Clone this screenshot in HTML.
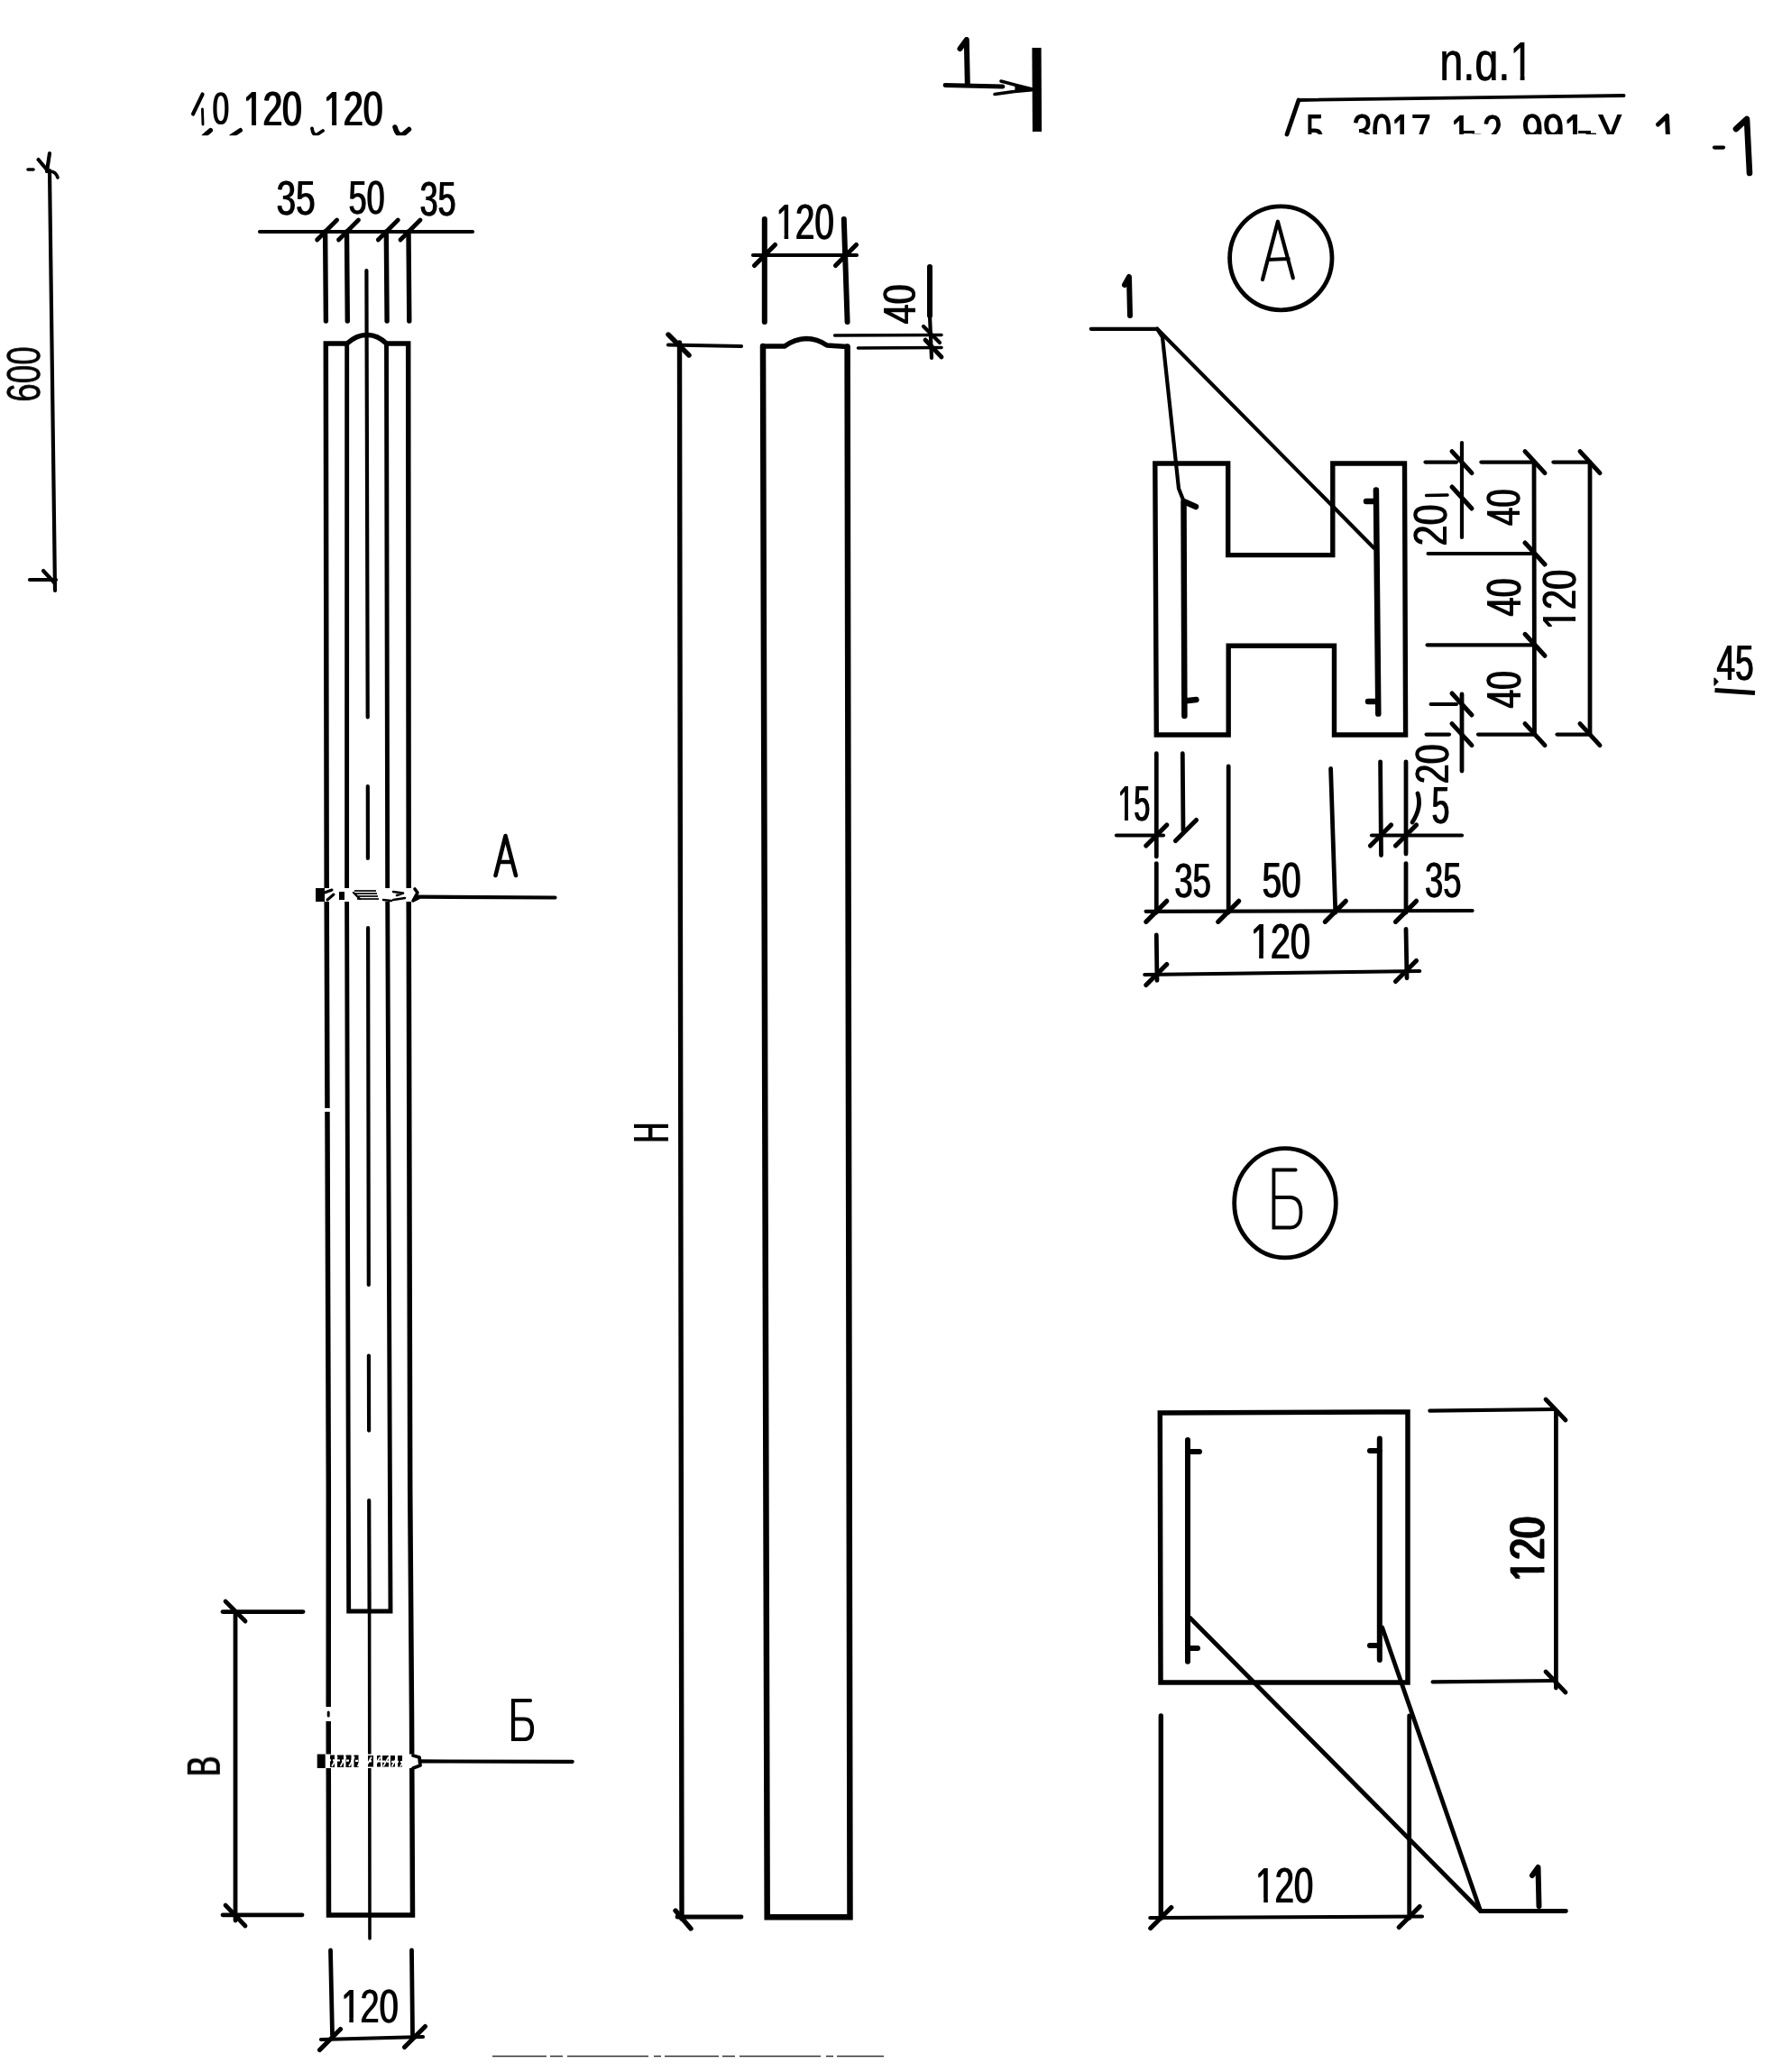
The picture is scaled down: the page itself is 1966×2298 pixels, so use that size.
<!DOCTYPE html>
<html><head><meta charset="utf-8"><title>Drawing</title>
<style>html,body{margin:0;padding:0;background:#fff;}body{width:1966px;height:2298px;overflow:hidden;font-family:"Liberation Sans",sans-serif;}svg{display:block;}</style></head>
<body>
<svg width="1966" height="2298" viewBox="0 0 1966 2298" font-family="'Liberation Sans', sans-serif" fill="#000">
<g style="opacity:.999">
<path d="M224.6 104.5 L214 126.5" fill="none" stroke="#000" stroke-width="4.1" stroke-linecap="round" stroke-linejoin="round"/>
<path d="M224.4 121 L225 138" fill="none" stroke="#000" stroke-width="2.9" stroke-linecap="round" stroke-linejoin="round"/>
<g transform="matrix(0.3321 0.0000 0.0000 0.5028 235.6000 138.1972)" font-size="100"  ><text x="-1.81">0</text><text x="1.81">0</text></g>
<g transform="matrix(0.3870 0.0000 0.0000 0.5282 270.0774 138.9718)" font-size="100"  ><text x="-2.07">120</text><text x="2.07">120</text><rect x="2.43" y="-10" width="20.65" height="12.5" fill="#fff" stroke="none"/><rect x="36.05" y="-10" width="19.82" height="12.5" fill="#fff" stroke="none"/></g>
<g transform="matrix(0.3927 0.0000 0.0000 0.5352 359.0224 139.4648)" font-size="100"  ><text x="-2.04">120</text><text x="2.04">120</text><rect x="2.46" y="-10" width="20.65" height="12.5" fill="#fff" stroke="none"/><rect x="36.02" y="-10" width="19.82" height="12.5" fill="#fff" stroke="none"/></g>
<clipPath id="c0"><rect x="200" y="135" width="300" height="15.3"/></clipPath>
<g clip-path="url(#c0)">
<line x1="226" y1="151" x2="233.5" y2="144.5" stroke="#000" stroke-width="5" stroke-linecap="round"/>
<line x1="256.5" y1="151" x2="266.5" y2="144.5" stroke="#000" stroke-width="5" stroke-linecap="round"/>
<path d="M346 142.5 Q347 151 352 149 L358 145" fill="none" stroke="#000" stroke-width="3.8" stroke-linecap="round" stroke-linejoin="round"/>
<path d="M438 141 Q441 152 447 149 L453.5 143.5" fill="none" stroke="#000" stroke-width="5.5" stroke-linecap="round" stroke-linejoin="round"/>
</g>
<line x1="55" y1="189" x2="61" y2="655" stroke="#000" stroke-width="4.2" stroke-linecap="round"/>
<line x1="31" y1="188" x2="37" y2="188" stroke="#000" stroke-width="3.6" stroke-linecap="round"/>
<line x1="42.5" y1="177" x2="53.5" y2="190" stroke="#000" stroke-width="4.2" stroke-linecap="round"/>
<line x1="55" y1="170" x2="52" y2="190" stroke="#000" stroke-width="4.2" stroke-linecap="round"/>
<path d="M55 190 Q62 190 64 197" fill="none" stroke="#000" stroke-width="3.6" stroke-linecap="round" stroke-linejoin="round"/>
<line x1="33" y1="643" x2="62" y2="643" stroke="#000" stroke-width="4.2" stroke-linecap="round"/>
<line x1="48" y1="633" x2="60" y2="646" stroke="#000" stroke-width="4.2" stroke-linecap="round"/>
<g transform="matrix(0.0000 -0.3689 0.5211 0.0000 44.4789 445.8000)" font-size="100"  ><text x="-0.54">600</text><text x="0.54">600</text></g>
<g transform="matrix(0.3856 0.0000 0.0000 0.5394 306.6000 238.4606)" font-size="100"  ><text x="-1.56">35</text><text x="1.56">35</text></g>
<g transform="matrix(0.3586 0.0000 0.0000 0.5099 386.6000 237.4901)" font-size="100"  ><text x="-1.67">50</text><text x="1.67">50</text></g>
<g transform="matrix(0.3586 0.0000 0.0000 0.5380 465.6000 239.4620)" font-size="100"  ><text x="-1.67">35</text><text x="1.67">35</text></g>
<line x1="288" y1="257" x2="524" y2="257" stroke="#000" stroke-width="4.2" stroke-linecap="round"/>
<line x1="360.6" y1="257" x2="361.4" y2="356" stroke="#000" stroke-width="5.4" stroke-linecap="round"/>
<line x1="351.6" y1="266" x2="373.6" y2="244" stroke="#000" stroke-width="4.8" stroke-linecap="round"/>
<line x1="384.5" y1="257" x2="385.3" y2="356" stroke="#000" stroke-width="5.4" stroke-linecap="round"/>
<line x1="375.5" y1="266" x2="397.5" y2="244" stroke="#000" stroke-width="4.8" stroke-linecap="round"/>
<line x1="428.3" y1="257" x2="429.1" y2="356" stroke="#000" stroke-width="5.4" stroke-linecap="round"/>
<line x1="419.3" y1="266" x2="441.3" y2="244" stroke="#000" stroke-width="4.8" stroke-linecap="round"/>
<line x1="453" y1="257" x2="453.8" y2="356" stroke="#000" stroke-width="5.4" stroke-linecap="round"/>
<line x1="444" y1="266" x2="466" y2="244" stroke="#000" stroke-width="4.8" stroke-linecap="round"/>
<path d="M364.5 2124 L364.2 1900 L364.3 1650 L362.2 995 L361.3 381 L384.7 381 Q396 371 407 371.5 Q418 371 428.5 381 L452.7 381 L453.2 995 L454.7 1650 L456.5 1900 L457.5 2124 Z" fill="none" stroke="#000" stroke-width="5.5" stroke-linecap="round" stroke-linejoin="miter"/>
<path d="M384.7 381 L384.6 995 L386.3 1650 L386.7 1787 L433 1787 L432.4 1650 L429.7 995 L428.5 381" fill="none" stroke="#000" stroke-width="4.9" stroke-linecap="round" stroke-linejoin="miter"/>
<line x1="406.4" y1="300" x2="407.7" y2="795.5" stroke="#000" stroke-width="4.2" stroke-linecap="round"/>
<line x1="407.8" y1="872" x2="407.9" y2="952" stroke="#000" stroke-width="4.2" stroke-linecap="round"/>
<line x1="408.1" y1="1029" x2="408.8" y2="1425" stroke="#000" stroke-width="4.2" stroke-linecap="round"/>
<line x1="408.9" y1="1503.5" x2="409.1" y2="1586.6" stroke="#000" stroke-width="4.2" stroke-linecap="round"/>
<line x1="409.2" y1="1664" x2="409.6" y2="1787" stroke="#000" stroke-width="4.2" stroke-linecap="round"/>
<line x1="409.6" y1="1787" x2="410" y2="2150" stroke="#000" stroke-width="3.6" stroke-linecap="round"/>
<rect x="358" y="1229" width="10" height="4" fill="#fff"/>
<rect x="359" y="1893" width="10" height="16" fill="#fff"/>
<line x1="364.2" y1="1899" x2="364.2" y2="1903" stroke="#000" stroke-width="3" stroke-linecap="round"/>
<rect x="358" y="985" width="105" height="15" fill="#fff"/>
<rect x="350" y="985" width="10" height="15" fill="#000"/>
<path d="M360 990 L368 987 M363 998 L370 992" fill="none" stroke="#000" stroke-width="3" stroke-linecap="round" stroke-linejoin="round"/>
<rect x="376" y="989" width="6" height="9" fill="#000"/>
<line x1="393" y1="988" x2="417" y2="988" stroke="#000" stroke-width="1.7" stroke-linecap="butt"/>
<line x1="394" y1="991" x2="418" y2="991" stroke="#000" stroke-width="1.7" stroke-linecap="butt"/>
<line x1="395" y1="994" x2="419" y2="994" stroke="#000" stroke-width="1.7" stroke-linecap="butt"/>
<line x1="396" y1="997" x2="420" y2="997" stroke="#000" stroke-width="1.7" stroke-linecap="butt"/>
<path d="M392 990 L399 997" fill="none" stroke="#000" stroke-width="2.4" stroke-linecap="round" stroke-linejoin="round"/>
<path d="M425 998 L434 999 M436 989 L447 990.5 L440 993 M436 998 L449 996" fill="none" stroke="#000" stroke-width="2.6" stroke-linecap="round" stroke-linejoin="round"/>
<path d="M460 986 L463 990 L458 999 L464 996" fill="none" stroke="#000" stroke-width="3.6" stroke-linecap="round" stroke-linejoin="round"/>
<line x1="463" y1="994.7" x2="615.5" y2="995.5" stroke="#000" stroke-width="4.2" stroke-linecap="round"/>
<path d="M549.5 971 L560.5 927 L572 971 M553.5 956 L568 956" fill="none" stroke="#000" stroke-width="4.6" stroke-linecap="round" stroke-linejoin="round"/>
<rect x="359.7" y="1945.5" width="106.1" height="15.5" fill="#fff"/>
<rect x="351.7" y="1945.5" width="9" height="15.5" fill="#000"/>
<line x1="366" y1="1953.2" x2="398" y2="1953.2" stroke="#000" stroke-width="13.5" stroke-dasharray="5 3 7 2.5 6 3"/>
<line x1="408" y1="1953.2" x2="446" y2="1953.2" stroke="#000" stroke-width="12.5" stroke-dasharray="6 4 4 2 7 2 5 3"/>
<line x1="364" y1="1952.2" x2="452" y2="1954.2" stroke="#fff" stroke-width="2.2" stroke-dasharray="3 2"/>
<line x1="368" y1="1959" x2="374" y2="1948.5" stroke="#fff" stroke-width="1.6" stroke-linecap="butt"/>
<line x1="377.5" y1="1959" x2="383.5" y2="1948.5" stroke="#fff" stroke-width="1.6" stroke-linecap="butt"/>
<line x1="387" y1="1959" x2="393" y2="1948.5" stroke="#fff" stroke-width="1.6" stroke-linecap="butt"/>
<line x1="396.5" y1="1959" x2="402.5" y2="1948.5" stroke="#fff" stroke-width="1.6" stroke-linecap="butt"/>
<line x1="406" y1="1959" x2="412" y2="1948.5" stroke="#fff" stroke-width="1.6" stroke-linecap="butt"/>
<line x1="415.5" y1="1959" x2="421.5" y2="1948.5" stroke="#fff" stroke-width="1.6" stroke-linecap="butt"/>
<line x1="425" y1="1959" x2="431" y2="1948.5" stroke="#fff" stroke-width="1.6" stroke-linecap="butt"/>
<line x1="434.5" y1="1959" x2="440.5" y2="1948.5" stroke="#fff" stroke-width="1.6" stroke-linecap="butt"/>
<line x1="444" y1="1959" x2="450" y2="1948.5" stroke="#fff" stroke-width="1.6" stroke-linecap="butt"/>
<path d="M458 1947 L465 1949 L466 1958 L458 1961" fill="none" stroke="#000" stroke-width="3.8" stroke-linecap="round" stroke-linejoin="round"/>
<line x1="465.8" y1="1953.4" x2="634.7" y2="1953.8" stroke="#000" stroke-width="4.2" stroke-linecap="round"/>
<path d="M588 1886 L569 1886 L569 1929 L582 1929 Q590 1928.5 590 1917.5 Q590 1906.5 581 1906.5 L569 1906.5" fill="none" stroke="#000" stroke-width="4.2" stroke-linecap="round" stroke-linejoin="miter"/>
<line x1="261" y1="1787.6" x2="261" y2="2130" stroke="#000" stroke-width="4.8" stroke-linecap="round"/>
<line x1="247" y1="1787.6" x2="336" y2="1787.6" stroke="#000" stroke-width="4.8" stroke-linecap="round"/>
<line x1="247" y1="2123.8" x2="335" y2="2123.8" stroke="#000" stroke-width="4.8" stroke-linecap="round"/>
<line x1="250" y1="1776" x2="272" y2="1798" stroke="#000" stroke-width="4.8" stroke-linecap="round"/>
<line x1="250" y1="2113" x2="272" y2="2136" stroke="#000" stroke-width="4.8" stroke-linecap="round"/>
<g transform="matrix(0.0000 -0.3343 0.5217 0.0000 243.8000 1970.0000)" font-size="100"  ><text x="-1.79">B</text><text x="1.79">B</text></g>
<line x1="366.5" y1="2163" x2="368.5" y2="2257" stroke="#000" stroke-width="4.8" stroke-linecap="round"/>
<line x1="456.5" y1="2163" x2="457.5" y2="2257" stroke="#000" stroke-width="4.8" stroke-linecap="round"/>
<line x1="356" y1="2262" x2="469" y2="2259" stroke="#000" stroke-width="4.2" stroke-linecap="round"/>
<line x1="354.5" y1="2273.5" x2="377.5" y2="2250.5" stroke="#000" stroke-width="5.2" stroke-linecap="round"/>
<line x1="448.5" y1="2270.5" x2="471.5" y2="2247.5" stroke="#000" stroke-width="5.2" stroke-linecap="round"/>
<g transform="matrix(0.3800 0.0000 0.0000 0.5254 378.3447 2243.4746)" font-size="100"  ><text x="-1.58">120</text><text x="1.58">120</text><rect x="2.92" y="-10" width="20.65" height="12.5" fill="#fff" stroke="none"/><rect x="35.56" y="-10" width="19.82" height="12.5" fill="#fff" stroke="none"/></g>
<line x1="546" y1="2280.5" x2="980" y2="2280.5" stroke="#333" stroke-width="1.6" stroke-dasharray="60 4 14 5 90 6 8 4"/>
<g transform="matrix(0.3863 0.0000 0.0000 0.5592 860.4835 265.1408)" font-size="100"  ><text x="-1.55">120</text><text x="1.55">120</text><rect x="2.95" y="-10" width="20.65" height="12.5" fill="#fff" stroke="none"/><rect x="35.53" y="-10" width="19.82" height="12.5" fill="#fff" stroke="none"/></g>
<line x1="847.8" y1="243" x2="847.8" y2="357" stroke="#000" stroke-width="6" stroke-linecap="round"/>
<line x1="935.8" y1="243" x2="939.6" y2="357" stroke="#000" stroke-width="6" stroke-linecap="round"/>
<line x1="835" y1="283" x2="950" y2="283" stroke="#000" stroke-width="4.2" stroke-linecap="round"/>
<line x1="836.5" y1="294.5" x2="859.5" y2="271.5" stroke="#000" stroke-width="5.2" stroke-linecap="round"/>
<line x1="926.5" y1="294.5" x2="949.5" y2="271.5" stroke="#000" stroke-width="5.2" stroke-linecap="round"/>
<path d="M846 384 L850.7 2126.3 L942.5 2126.3 L939.6 384.5" fill="none" stroke="#000" stroke-width="6.5" stroke-linecap="round" stroke-linejoin="miter"/>
<path d="M846 384 L870 384 Q881 376 894 375.5 Q906 375.5 917 383 L939.6 384.5" fill="none" stroke="#000" stroke-width="5.4" stroke-linecap="round" stroke-linejoin="round"/>
<line x1="753.5" y1="380" x2="756" y2="2128" stroke="#000" stroke-width="5.4" stroke-linecap="round"/>
<line x1="741" y1="382.5" x2="822" y2="384" stroke="#000" stroke-width="4.2" stroke-linecap="round"/>
<line x1="751" y1="2126" x2="822" y2="2126" stroke="#000" stroke-width="4.8" stroke-linecap="round"/>
<line x1="741" y1="371" x2="764" y2="394" stroke="#000" stroke-width="5.4" stroke-linecap="round"/>
<line x1="749" y1="2119" x2="766" y2="2139" stroke="#000" stroke-width="5.4" stroke-linecap="round"/>
<g transform="matrix(0.0000 -0.3111 0.5493 0.0000 741.4000 1267.4000)" font-size="100"  ><text x="-1.93">H</text><text x="1.93">H</text></g>
<line x1="1031" y1="296" x2="1031" y2="350" stroke="#000" stroke-width="6" stroke-linecap="round"/>
<line x1="1031" y1="350" x2="1033" y2="397" stroke="#000" stroke-width="4.2" stroke-linecap="round"/>
<line x1="925.6" y1="372" x2="1044" y2="371.5" stroke="#000" stroke-width="3.6" stroke-linecap="round"/>
<line x1="951.5" y1="386" x2="1044" y2="385.5" stroke="#000" stroke-width="3.6" stroke-linecap="round"/>
<line x1="1024" y1="362" x2="1042" y2="380" stroke="#000" stroke-width="4.2" stroke-linecap="round"/>
<line x1="1026" y1="377" x2="1044" y2="396" stroke="#000" stroke-width="4.8" stroke-linecap="round"/>
<g transform="matrix(0.0000 -0.3946 0.5070 0.0000 1015.2930 359.4000)" font-size="100"  ><text x="-1.52">40</text><text x="1.52">40</text></g>
<path d="M1064.5 54 L1071.8 44 L1072.8 93" fill="none" stroke="#000" stroke-width="6" stroke-linecap="round" stroke-linejoin="round"/>
<line x1="1048" y1="94.5" x2="1112" y2="96" stroke="#000" stroke-width="4.8" stroke-linecap="round"/>
<path d="M1110 90 Q1128 95 1147 99.5 Q1125 101 1103 104.5" fill="none" stroke="#000" stroke-width="3.6" stroke-linecap="round" stroke-linejoin="round"/>
<path d="M1126 95.5 L1147 99.5 L1126 102 Z" fill="#000" stroke="#000" stroke-width="1.2" stroke-linecap="round" stroke-linejoin="round"/>
<line x1="1149.5" y1="53" x2="1150" y2="146" stroke="#000" stroke-width="10.2" stroke-linecap="butt"/>
<g transform="matrix(0.4672 0.0000 0.0000 0.6143 1596.3500 89.3857)" font-size="100"  ><text x="-0.75">n.ɑ.1</text><text x="0.75">n.ɑ.1</text><rect x="170.53" y="-10" width="20.65" height="12.5" fill="#fff" stroke="none"/><rect x="201.51" y="-10" width="19.82" height="12.5" fill="#fff" stroke="none"/></g>
<line x1="1440" y1="111" x2="1800.6" y2="106" stroke="#000" stroke-width="3.8" stroke-linecap="round"/>
<line x1="1440" y1="111" x2="1427" y2="149" stroke="#000" stroke-width="4.8" stroke-linecap="round"/>
<clipPath id="ct"><rect x="1400" y="100" width="566" height="49"/></clipPath>
<g clip-path="url(#ct)">
<g transform="matrix(0.2939 0.0000 0.0000 0.5507 1448.6000 165.0000)" font-size="100"  ><text x="-2.04">Б</text><text x="2.04">Б</text></g>
<g transform="matrix(0.3910 0.0000 0.0000 0.5352 1499.6000 164.4648)" font-size="100"  ><text x="-1.53">3017</text><text x="1.53">3017</text><rect x="114.18" y="-10" width="20.65" height="12.5" fill="#fff" stroke="none"/><rect x="146.73" y="-10" width="19.82" height="12.5" fill="#fff" stroke="none"/></g>
<g transform="matrix(0.3937 0.0000 0.0000 0.5429 1608.8125 165.0000)" font-size="100"  ><text x="-1.52">1-2</text><text x="1.52">1-2</text><rect x="2.98" y="-10" width="20.65" height="12.5" fill="#fff" stroke="none"/><rect x="35.50" y="-10" width="19.82" height="12.5" fill="#fff" stroke="none"/></g>
<g transform="matrix(0.4181 0.0000 0.0000 0.5352 1687.6000 164.4648)" font-size="100"  ><text x="-1.44">991-У</text><text x="1.44">991-У</text><rect x="114.28" y="-10" width="20.65" height="12.5" fill="#fff" stroke="none"/><rect x="146.63" y="-10" width="19.82" height="12.5" fill="#fff" stroke="none"/></g>
<path d="M1838.5 138 L1848.5 128.5 L1850 165" fill="none" stroke="#000" stroke-width="5" stroke-linecap="round" stroke-linejoin="round"/>
</g>
<line x1="1621" y1="146.5" x2="1635" y2="146.5" stroke="#000" stroke-width="3.1" stroke-linecap="butt"/>
<line x1="1750" y1="146.5" x2="1764" y2="146.5" stroke="#000" stroke-width="3.1" stroke-linecap="butt"/>
<line x1="1901" y1="163.6" x2="1911" y2="163.6" stroke="#000" stroke-width="4.2" stroke-linecap="round"/>
<path d="M1925 143 L1937 132 L1940 192" fill="none" stroke="#000" stroke-width="6.6" stroke-linecap="round" stroke-linejoin="round"/>
<ellipse cx="1420.3" cy="286.3" rx="56.7" ry="57.5" fill="none" stroke="#000" stroke-width="4.8"/>
<path d="M1400 310 L1416.9 245.7 L1433.8 308.3 M1406 288 L1428.7 287" fill="none" stroke="#000" stroke-width="4.2" stroke-linecap="round" stroke-linejoin="round"/>
<path d="M1247 316 L1252 307 L1253 350" fill="none" stroke="#000" stroke-width="6" stroke-linecap="round" stroke-linejoin="round"/>
<line x1="1209.8" y1="364.8" x2="1283.2" y2="364.8" stroke="#000" stroke-width="4.2" stroke-linecap="round"/>
<path d="M1283.2 364.8 L1289 374 L1307 541.8 L1313.7 558.7" fill="none" stroke="#000" stroke-width="4.2" stroke-linecap="round" stroke-linejoin="round"/>
<line x1="1283.2" y1="364.8" x2="1523.5" y2="607.8" stroke="#000" stroke-width="4.2" stroke-linecap="round"/>
<path d="M1280.8 514 L1361.7 514 L1361.7 615.6 L1477.8 615.6 L1477.8 514 L1557.5 514 L1558.6 815 L1479.5 815 L1479.5 716.3 L1362.2 716.3 L1362.2 815 L1282.3 815 Z" fill="none" stroke="#000" stroke-width="5.4" stroke-linecap="round" stroke-linejoin="miter"/>
<path d="M1326 562 L1312.5 556 L1313.4 794 M1313.4 777.5 L1326.4 776" fill="none" stroke="#000" stroke-width="6.5" stroke-linecap="round" stroke-linejoin="round"/>
<path d="M1515 556 L1526 556 M1525.9 543.5 L1528.3 791.6 M1528 778 L1517 778" fill="none" stroke="#000" stroke-width="6.5" stroke-linecap="round" stroke-linejoin="round"/>
<line x1="1580.5" y1="512.6" x2="1615" y2="512.6" stroke="#000" stroke-width="4.2" stroke-linecap="round"/>
<line x1="1642.4" y1="512.6" x2="1700" y2="512.6" stroke="#000" stroke-width="4.2" stroke-linecap="round"/>
<line x1="1722.4" y1="512.6" x2="1761" y2="512.6" stroke="#000" stroke-width="4.2" stroke-linecap="round"/>
<line x1="1581.6" y1="549.5" x2="1605" y2="549" stroke="#000" stroke-width="3.6" stroke-linecap="round"/>
<line x1="1583.6" y1="614" x2="1700" y2="614" stroke="#000" stroke-width="4.2" stroke-linecap="round"/>
<line x1="1582.6" y1="715.3" x2="1700" y2="715.3" stroke="#000" stroke-width="4.2" stroke-linecap="round"/>
<line x1="1586.6" y1="781" x2="1615" y2="781" stroke="#000" stroke-width="4.2" stroke-linecap="round"/>
<line x1="1581.6" y1="814.6" x2="1607" y2="814.6" stroke="#000" stroke-width="4.2" stroke-linecap="round"/>
<line x1="1639" y1="814.6" x2="1700" y2="814.6" stroke="#000" stroke-width="4.2" stroke-linecap="round"/>
<line x1="1726.5" y1="814.6" x2="1761" y2="814.6" stroke="#000" stroke-width="4.2" stroke-linecap="round"/>
<line x1="1621" y1="491" x2="1621" y2="596" stroke="#000" stroke-width="4.2" stroke-linecap="round"/>
<line x1="1621" y1="770" x2="1621" y2="855" stroke="#000" stroke-width="4.8" stroke-linecap="round"/>
<line x1="1701" y1="512.6" x2="1701.5" y2="814.6" stroke="#000" stroke-width="4.8" stroke-linecap="round"/>
<line x1="1763" y1="512.6" x2="1763" y2="814.6" stroke="#000" stroke-width="4.8" stroke-linecap="round"/>
<line x1="1610" y1="500.6" x2="1632" y2="524.6" stroke="#000" stroke-width="5" stroke-linecap="round"/>
<line x1="1610" y1="540" x2="1632" y2="564" stroke="#000" stroke-width="5" stroke-linecap="round"/>
<line x1="1610" y1="769" x2="1632" y2="793" stroke="#000" stroke-width="5" stroke-linecap="round"/>
<line x1="1610" y1="802.6" x2="1632" y2="826.6" stroke="#000" stroke-width="5" stroke-linecap="round"/>
<line x1="1691" y1="500.6" x2="1713" y2="524.6" stroke="#000" stroke-width="5" stroke-linecap="round"/>
<line x1="1691" y1="602" x2="1713" y2="626" stroke="#000" stroke-width="5" stroke-linecap="round"/>
<line x1="1691" y1="703.3" x2="1713" y2="727.3" stroke="#000" stroke-width="5" stroke-linecap="round"/>
<line x1="1691" y1="802.6" x2="1713" y2="826.6" stroke="#000" stroke-width="5" stroke-linecap="round"/>
<line x1="1752" y1="500.6" x2="1774" y2="524.6" stroke="#000" stroke-width="5" stroke-linecap="round"/>
<line x1="1752" y1="802.6" x2="1774" y2="826.6" stroke="#000" stroke-width="5" stroke-linecap="round"/>
<g transform="matrix(0.0000 -0.4126 0.5155 0.0000 1604.4845 605.4000)" font-size="100"  ><text x="-1.45">20</text><text x="1.45">20</text></g>
<g transform="matrix(0.0000 -0.3631 0.5141 0.0000 1685.4859 582.9000)" font-size="100"  ><text x="-1.65">40</text><text x="1.65">40</text></g>
<g transform="matrix(0.0000 -0.3766 0.5282 0.0000 1686.4718 683.4000)" font-size="100"  ><text x="-1.59">40</text><text x="1.59">40</text></g>
<g transform="matrix(0.0000 -0.3703 0.5282 0.0000 1686.4718 785.4000)" font-size="100"  ><text x="-1.62">40</text><text x="1.62">40</text></g>
<g transform="matrix(0.0000 -0.3990 0.5183 0.0000 1747.2817 698.2387)" font-size="100"  ><text x="-1.50">120</text><text x="1.50">120</text><rect x="3.00" y="-10" width="20.65" height="12.5" fill="#fff" stroke="none"/><rect x="35.48" y="-10" width="19.82" height="12.5" fill="#fff" stroke="none"/></g>
<g transform="matrix(0.0000 -0.3946 0.5225 0.0000 1606.0775 869.4000)" font-size="100"  ><text x="-1.52">20</text><text x="1.52">20</text></g>
<line x1="1282.3" y1="835.7" x2="1282.3" y2="950" stroke="#000" stroke-width="4.8" stroke-linecap="round"/>
<line x1="1282.3" y1="957.6" x2="1282.3" y2="1012" stroke="#000" stroke-width="4.8" stroke-linecap="round"/>
<line x1="1282.3" y1="1036.8" x2="1283" y2="1087.4" stroke="#000" stroke-width="4.8" stroke-linecap="round"/>
<line x1="1311.3" y1="835.7" x2="1312" y2="921.3" stroke="#000" stroke-width="4.8" stroke-linecap="round"/>
<line x1="1362.2" y1="850" x2="1362.2" y2="1012" stroke="#000" stroke-width="4.8" stroke-linecap="round"/>
<line x1="1475.6" y1="852.5" x2="1480.8" y2="1012" stroke="#000" stroke-width="4.8" stroke-linecap="round"/>
<line x1="1530.6" y1="844.8" x2="1531.5" y2="948.6" stroke="#000" stroke-width="4.8" stroke-linecap="round"/>
<line x1="1559" y1="844.8" x2="1559" y2="947" stroke="#000" stroke-width="4.8" stroke-linecap="round"/>
<line x1="1559" y1="957.6" x2="1559" y2="1012" stroke="#000" stroke-width="4.8" stroke-linecap="round"/>
<line x1="1559" y1="1030.3" x2="1560" y2="1084.8" stroke="#000" stroke-width="4.8" stroke-linecap="round"/>
<line x1="1238" y1="926.5" x2="1290" y2="926.5" stroke="#000" stroke-width="4.2" stroke-linecap="round"/>
<line x1="1521" y1="926.5" x2="1621" y2="926.5" stroke="#000" stroke-width="4.2" stroke-linecap="round"/>
<line x1="1270.6" y1="1010.8" x2="1632.6" y2="1010" stroke="#000" stroke-width="4.2" stroke-linecap="round"/>
<line x1="1269.3" y1="1081" x2="1574.2" y2="1077" stroke="#000" stroke-width="4.2" stroke-linecap="round"/>
<line x1="1270.8" y1="938" x2="1293.8" y2="915" stroke="#000" stroke-width="5.2" stroke-linecap="round"/>
<line x1="1303.5" y1="932.5" x2="1326.5" y2="909.5" stroke="#000" stroke-width="5.2" stroke-linecap="round"/>
<line x1="1519.5" y1="938" x2="1542.5" y2="915" stroke="#000" stroke-width="5.2" stroke-linecap="round"/>
<line x1="1547.5" y1="938" x2="1570.5" y2="915" stroke="#000" stroke-width="5.2" stroke-linecap="round"/>
<line x1="1270.8" y1="1022.3" x2="1293.8" y2="999.3" stroke="#000" stroke-width="5.2" stroke-linecap="round"/>
<line x1="1350.7" y1="1022.3" x2="1373.7" y2="999.3" stroke="#000" stroke-width="5.2" stroke-linecap="round"/>
<line x1="1469.3" y1="1022.3" x2="1492.3" y2="999.3" stroke="#000" stroke-width="5.2" stroke-linecap="round"/>
<line x1="1547.5" y1="1022.3" x2="1570.5" y2="999.3" stroke="#000" stroke-width="5.2" stroke-linecap="round"/>
<line x1="1270.8" y1="1092.5" x2="1293.8" y2="1069.5" stroke="#000" stroke-width="5.2" stroke-linecap="round"/>
<line x1="1547.5" y1="1088.5" x2="1570.5" y2="1065.5" stroke="#000" stroke-width="5.2" stroke-linecap="round"/>
<g transform="matrix(0.3216 0.0000 0.0000 0.5571 1239.5066 910.4429)" font-size="100"  ><text x="-1.87">15</text><text x="1.87">15</text><rect x="2.63" y="-10" width="20.65" height="12.5" fill="#fff" stroke="none"/><rect x="35.85" y="-10" width="19.82" height="12.5" fill="#fff" stroke="none"/></g>
<path d="M1572 880 Q1577 895 1566 912" fill="none" stroke="#000" stroke-width="4.8" stroke-linecap="round" stroke-linejoin="round"/>
<g transform="matrix(0.3536 0.0000 0.0000 0.5743 1587.6000 912.9257)" font-size="100"  ><text x="-1.70">5</text><text x="1.70">5</text></g>
<g transform="matrix(0.3640 0.0000 0.0000 0.5310 1302.3000 994.7690)" font-size="100"  ><text x="-1.65">35</text><text x="1.65">35</text></g>
<g transform="matrix(0.3856 0.0000 0.0000 0.5493 1399.6000 994.7507)" font-size="100"  ><text x="-1.56">50</text><text x="1.56">50</text></g>
<g transform="matrix(0.3640 0.0000 0.0000 0.5493 1580.0000 994.7507)" font-size="100"  ><text x="-1.65">35</text><text x="1.65">35</text></g>
<g transform="matrix(0.3959 0.0000 0.0000 0.5493 1386.7919 1063.4507)" font-size="100"  ><text x="-1.52">120</text><text x="1.52">120</text><rect x="2.98" y="-10" width="20.65" height="12.5" fill="#fff" stroke="none"/><rect x="35.50" y="-10" width="19.82" height="12.5" fill="#fff" stroke="none"/></g>
<ellipse cx="1425" cy="1334.3" rx="56.3" ry="60.6" fill="none" stroke="#000" stroke-width="4.8"/>
<path d="M1436.7 1297.5 L1412.4 1297.5 L1412.4 1361.5 L1431 1361.5 Q1442.5 1361 1442.5 1344.5 Q1442.5 1328 1430 1328 L1412.4 1328" fill="none" stroke="#000" stroke-width="3.8" stroke-linecap="round" stroke-linejoin="miter"/>
<path d="M1286.3 1567 L1561 1566 L1561 1866 L1287 1866 Z" fill="none" stroke="#000" stroke-width="5.5" stroke-linecap="round" stroke-linejoin="miter"/>
<path d="M1330 1610 L1317 1610 M1317 1597 L1317 1842.8 M1317 1828 L1328 1828" fill="none" stroke="#000" stroke-width="6" stroke-linecap="round" stroke-linejoin="round"/>
<path d="M1519 1609 L1530 1609 M1529.8 1595.4 L1529.8 1841 M1530 1825 L1519 1825" fill="none" stroke="#000" stroke-width="6" stroke-linecap="round" stroke-linejoin="round"/>
<line x1="1725.4" y1="1564.7" x2="1725.4" y2="1872" stroke="#000" stroke-width="4.8" stroke-linecap="round"/>
<line x1="1585.4" y1="1564.7" x2="1724.4" y2="1563" stroke="#000" stroke-width="4.2" stroke-linecap="round"/>
<line x1="1588.6" y1="1865.4" x2="1724.4" y2="1864" stroke="#000" stroke-width="4.2" stroke-linecap="round"/>
<line x1="1714" y1="1552" x2="1736" y2="1575" stroke="#000" stroke-width="4.8" stroke-linecap="round"/>
<line x1="1714" y1="1854" x2="1736" y2="1877" stroke="#000" stroke-width="4.8" stroke-linecap="round"/>
<g transform="matrix(0.0000 -0.4295 0.5451 0.0000 1712.4549 1753.7321)" font-size="100" stroke="#000" stroke-width="1" ><text x="-2.33">120</text><text x="2.33">120</text><rect x="1.67" y="-10" width="20.65" height="13.5" fill="#fff" stroke="none"/><rect x="36.81" y="-10" width="19.82" height="13.5" fill="#fff" stroke="none"/></g>
<line x1="1319.5" y1="1794.2" x2="1641.7" y2="2119.5" stroke="#000" stroke-width="4.8" stroke-linecap="round"/>
<line x1="1532.7" y1="1805" x2="1641.7" y2="2119.5" stroke="#000" stroke-width="4.8" stroke-linecap="round"/>
<line x1="1641.7" y1="2119.5" x2="1736.4" y2="2119.5" stroke="#000" stroke-width="4.8" stroke-linecap="round"/>
<path d="M1699 2080 L1705.5 2071 L1706.5 2114" fill="none" stroke="#000" stroke-width="6" stroke-linecap="round" stroke-linejoin="round"/>
<line x1="1287.3" y1="1903" x2="1287.3" y2="2127.4" stroke="#000" stroke-width="5.4" stroke-linecap="round"/>
<line x1="1562.7" y1="1903" x2="1562.7" y2="2127.4" stroke="#000" stroke-width="4.8" stroke-linecap="round"/>
<line x1="1275.3" y1="2127" x2="1577" y2="2125.5" stroke="#000" stroke-width="4.2" stroke-linecap="round"/>
<line x1="1275.8" y1="2138.5" x2="1298.8" y2="2115.5" stroke="#000" stroke-width="5.2" stroke-linecap="round"/>
<line x1="1551.2" y1="2137.5" x2="1574.2" y2="2114.5" stroke="#000" stroke-width="5.2" stroke-linecap="round"/>
<g transform="matrix(0.3844 0.0000 0.0000 0.5493 1392.2019 2110.4507)" font-size="100"  ><text x="-1.56">120</text><text x="1.56">120</text><rect x="2.94" y="-10" width="20.65" height="12.5" fill="#fff" stroke="none"/><rect x="35.54" y="-10" width="19.82" height="12.5" fill="#fff" stroke="none"/></g>
<g transform="matrix(0.3676 0.0000 0.0000 0.5514 1903.6000 753.7486)" font-size="100"  ><text x="-1.63">45</text><text x="1.63">45</text></g>
<line x1="1901.5" y1="765.5" x2="1946" y2="768.5" stroke="#000" stroke-width="4.8" stroke-linecap="butt"/>
<path d="M1901 752 L1905 756 L1901 760 Z" fill="#000" stroke="#000" stroke-width="1.2" stroke-linecap="round" stroke-linejoin="round"/>
</g>
</svg>
</body></html>
